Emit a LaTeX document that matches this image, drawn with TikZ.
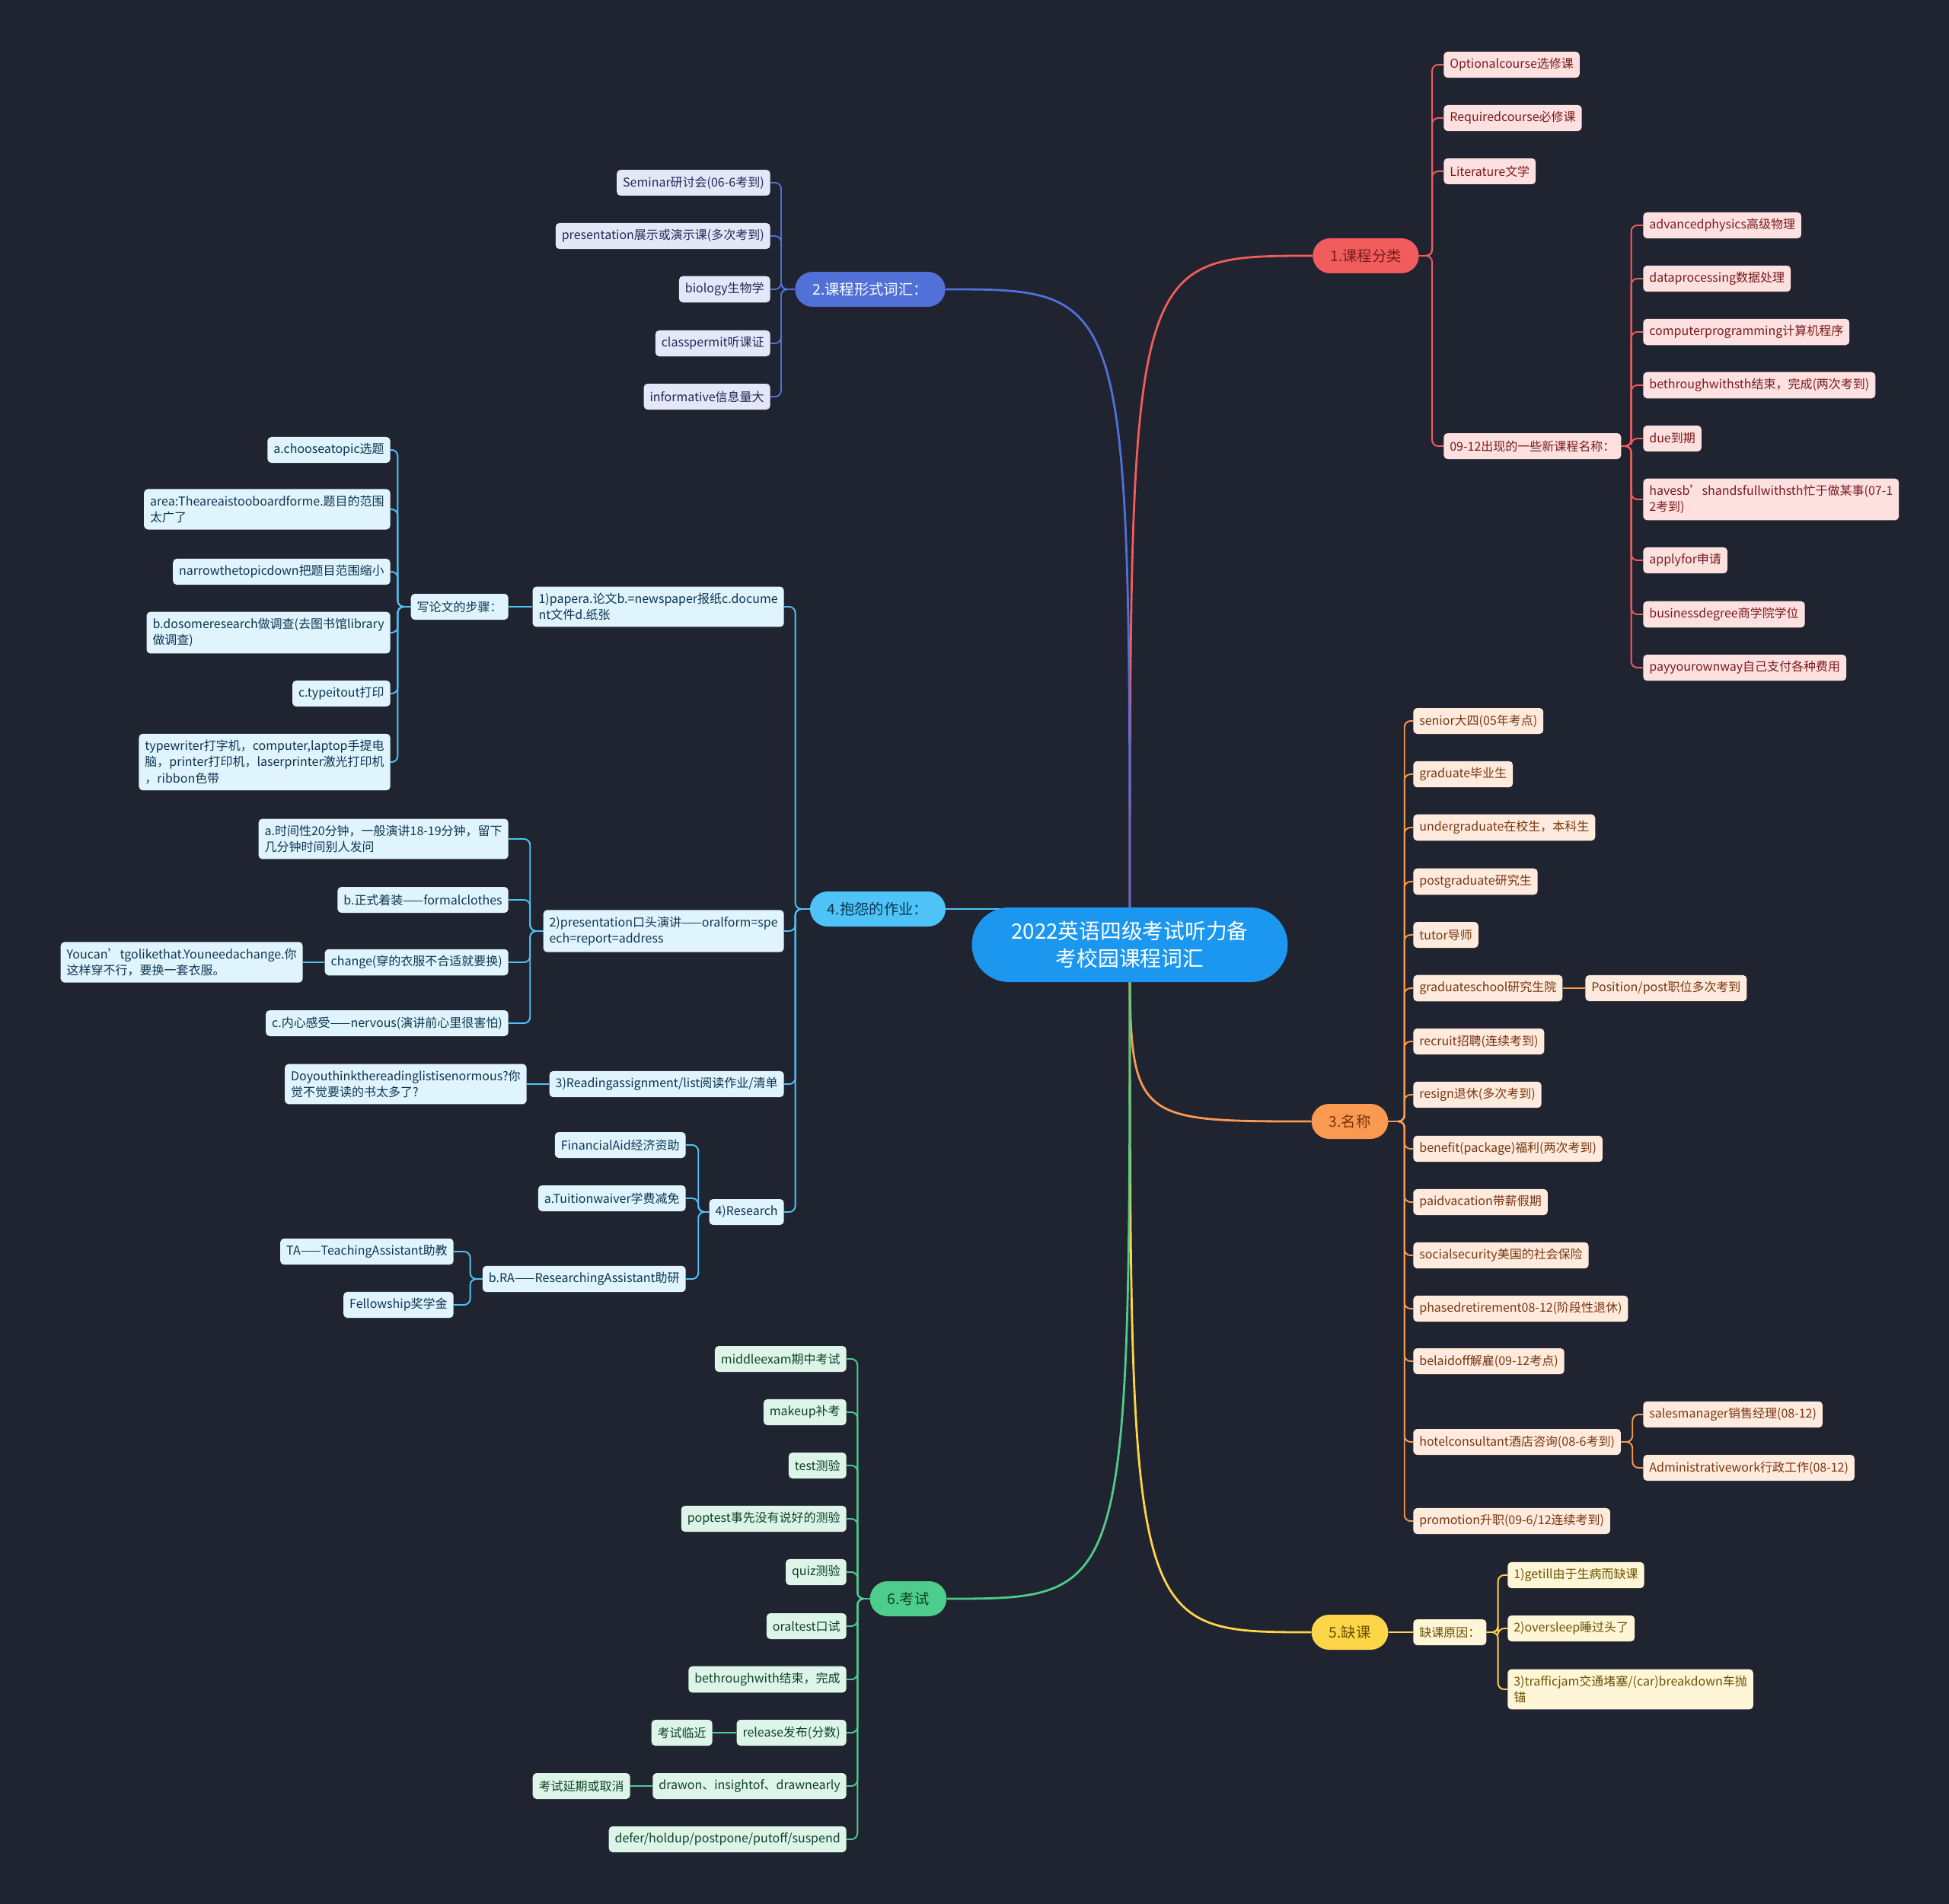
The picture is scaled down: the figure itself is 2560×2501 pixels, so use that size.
\documentclass[tikz,border=0pt]{standalone}
\usepackage{fontspec}
\setmainfont{Noto Sans CJK SC}
\usetikzlibrary{calc}
\definecolor{paper}{HTML}{202330}
\definecolor{rootblue}{HTML}{1C97F0}
\definecolor{redmain}{HTML}{F15D5D}
\definecolor{redleaf}{HTML}{FDE1E1}
\definecolor{redtext}{HTML}{7B1A1A}
\definecolor{bluemain}{HTML}{5170D8}
\definecolor{blueleaf}{HTML}{E4E7F7}
\definecolor{bluetext}{HTML}{1F2A55}
\definecolor{orgmain}{HTML}{FA9A50}
\definecolor{orgleaf}{HTML}{FEEBDD}
\definecolor{orgtext}{HTML}{7A3510}
\definecolor{skymain}{HTML}{4EC3F7}
\definecolor{skyleaf}{HTML}{DFF4FD}
\definecolor{skytext}{HTML}{0E3550}
\definecolor{ylwmain}{HTML}{FDD548}
\definecolor{ylwleaf}{HTML}{FFF6D8}
\definecolor{ylwtext}{HTML}{6A5200}
\definecolor{grnmain}{HTML}{4ECC8D}
\definecolor{grnleaf}{HTML}{DCF5E8}
\definecolor{grntext}{HTML}{10402A}
\pgfdeclarelayer{paperlayer}
\pgfdeclarelayer{edges}
\pgfsetlayers{paperlayer,edges,main}
\tikzset{
    root/.style={rectangle, rounded corners=0.98cm, fill=rootblue, text=white, minimum width=8.3cm, minimum height=1.96cm, align=center, font=\fontsize{15.8}{20.5}\selectfont},
    topic/.style={rectangle, rounded corners=0.46cm, minimum height=0.92cm, inner xsep=0.46cm, font=\fontsize{11}{13}\selectfont},
    leaf/.style={rectangle, rounded corners=0.1cm, minimum height=0.68cm, inner xsep=0.16cm, inner ysep=0.17cm, align=left, font=\fontsize{9.1}{12}\selectfont},
    lk/.style={line width=1.1pt, rounded corners=0.16cm},
    lkmain/.style={line width=1.6pt},
    tred/.style={topic, fill=redmain, text=redtext},
    tblue/.style={topic, fill=bluemain, text=white},
    torg/.style={topic, fill=orgmain, text=orgtext},
    tsky/.style={topic, fill=skymain, text=skytext},
    tylw/.style={topic, fill=ylwmain, text=ylwtext},
    tgrn/.style={topic, fill=grnmain, text=grntext},
    lred/.style={leaf, fill=redleaf, text=redtext, anchor=west},
    lblue/.style={leaf, fill=blueleaf, text=bluetext, anchor=east},
    lorg/.style={leaf, fill=orgleaf, text=orgtext, anchor=west},
    lsky/.style={leaf, fill=skyleaf, text=skytext, anchor=east},
    lylw/.style={leaf, fill=ylwleaf, text=ylwtext, anchor=west},
    lgrn/.style={leaf, fill=grnleaf, text=grntext, anchor=east},
}
\begin{document}
\begin{tikzpicture}[x=0.02cm, y=-0.02cm]
    \useasboundingbox (0,0) rectangle (2560,2501);
    \begin{pgfonlayer}{paperlayer}\fill[paper] (0,0) rectangle (2560,2501);\end{pgfonlayer}
    \node[root] (c) at (1484,1241) {2022英语四级考试听力备\\考校园课程词汇};
    \node[tred] (b1) at (1794,336) {1.课程分类};
    \node[tblue] (b2) at (1143,380) {2.课程形式词汇：};
    \node[torg] (b3) at (1773,1473) {3.名称};
    \node[tsky] (b4) at (1153,1194) {4.抱怨的作业：};
    \node[tylw] (b5) at (1773,2144) {5.缺课};
    \node[tgrn] (b6) at (1193,2100) {6.考试};

    \node[lred] (b1a) at (1896,85) {Optionalcourse选修课};
    \node[lred] (b1b) at (1896,155) {Requiredcourse必修课};
    \node[lred] (b1c) at (1896,225) {Literature文学};
    \node[lred] (b1d) at (1896,586) {09-12出现的一些新课程名称：};
    \node[lred] (n1) at (2158,296) {advancedphysics高级物理};
    \node[lred] (n2) at (2158,366) {dataprocessing数据处理};
    \node[lred] (n3) at (2158,436) {computerprogramming计算机程序};
    \node[lred] (n4) at (2158,506) {bethroughwithsth结束，完成(两次考到)};
    \node[lred] (n5) at (2158,576) {due到期};
    \node[lred] (n6) at (2158,656) {havesb'shandsfullwithsth忙于做某事(07-1\\2考到)};
    \node[lred] (n7) at (2158,736) {applyfor申请};
    \node[lred] (n8) at (2158,807) {businessdegree商学院学位};
    \node[lred] (n9) at (2158,877) {payyourownway自己支付各种费用};

    \node[lblue] (s1) at (1012,240) {Seminar研讨会(06-6考到)};
    \node[lblue] (s2) at (1012,310) {presentation展示或演示课(多次考到)};
    \node[lblue] (s3) at (1012,380) {biology生物学};
    \node[lblue] (s4) at (1012,451) {classpermit听课证};
    \node[lblue] (s5) at (1012,521) {informative信息量大};

    \node[lorg] (m1) at (1856,947) {senior大四(05年考点)};
    \node[lorg] (m2) at (1856,1017) {graduate毕业生};
    \node[lorg] (m3) at (1856,1087) {undergraduate在校生，本科生};
    \node[lorg] (m4) at (1856,1158) {postgraduate研究生};
    \node[lorg] (m5) at (1856,1228) {tutor导师};
    \node[lorg] (m6) at (1856,1298) {graduateschool研究生院};
    \node[lorg] (m7) at (1856,1368) {recruit招聘(连续考到)};
    \node[lorg] (m8) at (1856,1438) {resign退休(多次考到)};
    \node[lorg] (m9) at (1856,1509) {benefit(package)福利(两次考到)};
    \node[lorg] (m10) at (1856,1579) {paidvacation带薪假期};
    \node[lorg] (m11) at (1856,1649) {socialsecurity美国的社会保险};
    \node[lorg] (m12) at (1856,1719) {phasedretirement08-12(阶段性退休)};
    \node[lorg] (m13) at (1856,1788) {belaidoff解雇(09-12考点)};
    \node[lorg] (m14) at (1856,1894) {hotelconsultant酒店咨询(08-6考到)};
    \node[lorg] (m15) at (1856,1998) {promotion升职(09-6/12连续考到)};
    \node[lorg] (pos) at (2082,1298) {Position/post职位多次考到};
    \node[lorg] (h1) at (2158,1858) {salesmanager销售经理(08-12)};
    \node[lorg] (h2) at (2158,1928) {Administrativework行政工作(08-12)};

    \node[lylw] (q) at (1856,2144) {缺课原因：};
    \node[lylw] (q1) at (1980,2069) {1)getill由于生病而缺课};
    \node[lylw] (q2) at (1980,2139) {2)oversleep睡过头了};
    \node[lylw] (q3) at (1980,2219) {3)trafficjam交通堵塞/(car)breakdown车抛\\锚};

    \node[lgrn] (e1) at (1112,1785) {middleexam期中考试};
    \node[lgrn] (e2) at (1112,1855) {makeup补考};
    \node[lgrn] (e3) at (1112,1925) {test测验};
    \node[lgrn] (e4) at (1112,1995) {poptest事先没有说好的测验};
    \node[lgrn] (e5) at (1112,2065) {quiz测验};
    \node[lgrn] (e6) at (1112,2136) {oraltest口试};
    \node[lgrn] (e7) at (1112,2206) {bethroughwith结束，完成};
    \node[lgrn] (e8) at (1112,2276) {release发布(分数)};
    \node[lgrn] (e9) at (1112,2346) {drawon、insightof、drawnearly};
    \node[lgrn] (e10) at (1112,2416) {defer/holdup/postpone/putoff/suspend};
    \node[lgrn] (e8x) at (936,2276) {考试临近};
    \node[lgrn] (e9x) at (828,2346) {考试延期或取消};

    \node[lsky] (p1) at (1030,797) {1)papera.论文b.=newspaper报纸c.docume\\nt文件d.纸张};
    \node[lsky] (p2) at (1030,1223) {2)presentation口头演讲——oralform=spe\\ech=report=address};
    \node[lsky] (p3) at (1030,1424) {3)Readingassignment/list阅读作业/清单};
    \node[lsky] (p4) at (1030,1592) {4)Research};
    \node[lsky] (w) at (668,797) {写论文的步骤：};
    \node[lsky] (w1) at (513,591) {a.chooseatopic选题};
    \node[lsky] (w2) at (513,669) {area:Theareaistooboardforme.题目的范围\\太广了};
    \node[lsky] (w3) at (513,751) {narrowthetopicdown把题目范围缩小};
    \node[lsky] (w4) at (513,831) {b.dosomeresearch做调查(去图书馆library\\做调查)};
    \node[lsky] (w5) at (513,911) {c.typeitout打印};
    \node[lsky] (w6) at (513,1001) {typewriter打字机，computer,laptop手提电\\脑，printer打印机，laserprinter激光打印机\\，ribbon色带};
    \node[lsky] (r1) at (668,1102) {a.时间性20分钟，一般演讲18-19分钟，留下\\几分钟时间别人发问};
    \node[lsky] (r2) at (668,1182) {b.正式着装——formalclothes};
    \node[lsky] (r3) at (668,1264) {change(穿的衣服不合适就要换)};
    \node[lsky] (r4) at (668,1344) {c.内心感受——nervous(演讲前心里很害怕)};
    \node[lsky] (r3x) at (398,1264) {Youcan’tgolikethat.Youneedachange.你\\这样穿不行，要换一套衣服。};
    \node[lsky] (p3x) at (692,1424) {Doyouthinkthereadinglistisenormous?你\\觉不觉要读的书太多了?};
    \node[lsky] (f1) at (901,1504) {FinancialAid经济资助};
    \node[lsky] (f2) at (901,1574) {a.Tuitionwaiver学费减免};
    \node[lsky] (f3) at (901,1680) {b.RA——ResearchingAssistant助研};
    \node[lsky] (t1) at (596,1644) {TA——TeachingAssistant助教};
    \node[lsky] (t2) at (596,1714) {Fellowship奖学金};

    \begin{pgfonlayer}{edges}
    \draw[lkmain, redmain] (c.center) .. controls (c.center |- b1.west) .. (b1.west);
    \draw[lkmain, bluemain] (c.center) .. controls (c.center |- b2.east) .. (b2.east);
    \draw[lkmain, orgmain] (c.center) .. controls (c.center |- b3.west) .. (b3.west);
    \draw[lkmain, skymain] (b4.east) -- (b4.east -| c.center);
    \draw[lkmain, ylwmain] (c.center) .. controls (c.center |- b5.west) .. (b5.west);
    \draw[lkmain, grnmain] (c.center) .. controls (c.center |- b6.east) .. (b6.east);
    \foreach \n in {b1a,b1b,b1c,b1d} { \draw[lk, redmain] (b1.east) -- ++(17,0) |- (\n.west); }
    \foreach \n in {n1,n2,n3,n4,n5,n6,n7,n8,n9} { \draw[lk, redmain] (b1d.east) -- ++(13,0) |- (\n.west); }
    \foreach \n in {s1,s2,s3,s4,s5} { \draw[lk, bluemain] (b2.west) -- ++(-18,0) |- (\n.east); }
    \foreach \n in {m1,m2,m3,m4,m5,m6,m7,m8,m9,m10,m11,m12,m13,m14,m15} { \draw[lk, orgmain] (b3.east) -- ++(21,0) |- (\n.west); }
    \draw[lk, orgmain] (m6.east) -- (pos.west);
    \foreach \n in {h1,h2} { \draw[lk, orgmain] (m14.east) -- ++(15,0) |- (\n.west); }
    \draw[lk, ylwmain] (b5.east) -- (q.west);
    \foreach \n in {q1,q2,q3} { \draw[lk, ylwmain] (q.east) -- ++(15,0) |- (\n.west); }
    \foreach \n in {e1,e2,e3,e4,e5,e6,e7,e8,e9,e10} { \draw[lk, grnmain] (b6.west) -- ++(-16,0) |- (\n.east); }
    \draw[lk, grnmain] (e8.west) -- (e8x.east);
    \draw[lk, grnmain] (e9.west) -- (e9x.east);
    \foreach \n in {p1,p2,p3,p4} { \draw[lk, skymain] (b4.west) -- ++(-19,0) |- (\n.east); }
    \draw[lk, skymain] (p1.west) -- (w.east);
    \foreach \n in {w1,w2,w3,w4,w5,w6} { \draw[lk, skymain] (w.west) -- ++(-17,0) |- (\n.east); }
    \foreach \n in {r1,r2,r3,r4} { \draw[lk, skymain] (p2.west) -- ++(-17,0) |- (\n.east); }
    \draw[lk, skymain] (r3.west) -- (r3x.east);
    \draw[lk, skymain] (p3.west) -- (p3x.east);
    \foreach \n in {f1,f2,f3} { \draw[lk, skymain] (p4.west) -- ++(-14,0) |- (\n.east); }
    \foreach \n in {t1,t2} { \draw[lk, skymain] (f3.west) -- ++(-16,0) |- (\n.east); }
    \end{pgfonlayer}
\end{tikzpicture}
\end{document}
